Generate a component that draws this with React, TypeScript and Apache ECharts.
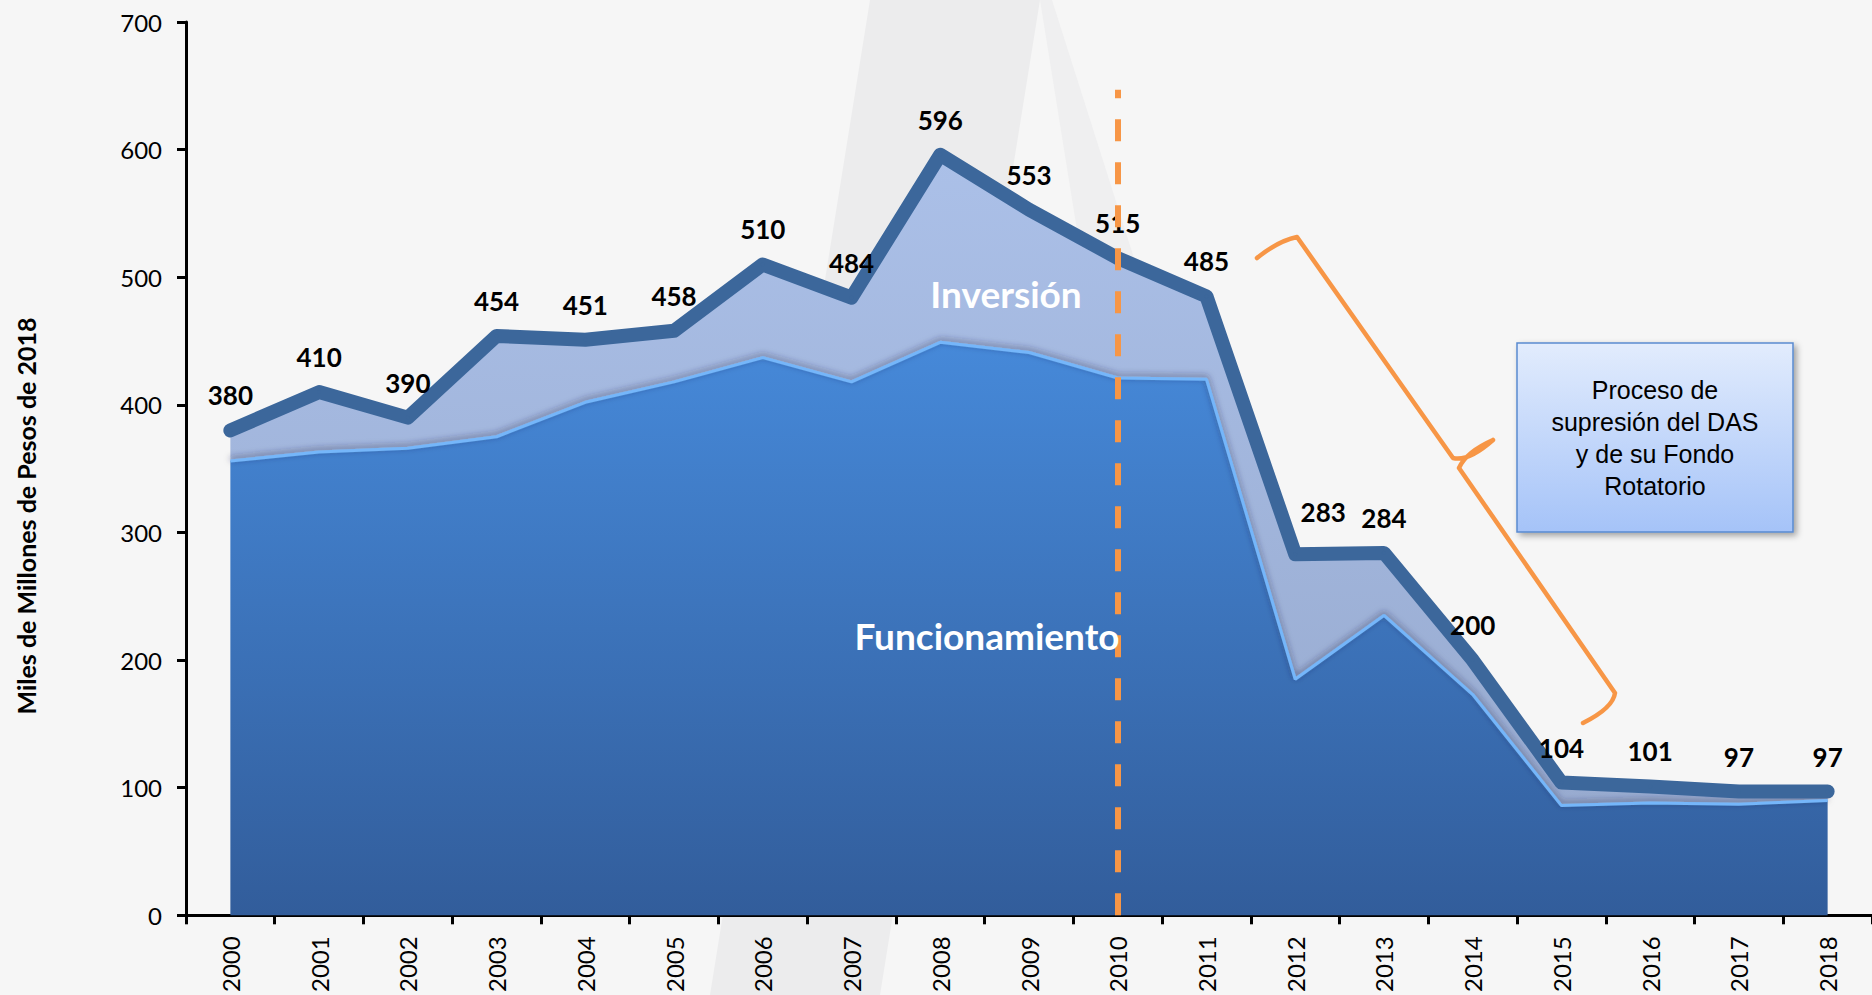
import React, { useEffect, useRef } from 'react';
import * as echarts from 'echarts';

const years = ['2000', '2001', '2002', '2003', '2004', '2005', '2006', '2007', '2008', '2009', '2010', '2011', '2012', '2013', '2014', '2015', '2016', '2017', '2018'];
const total = [380, 410, 390, 454, 451, 458, 510, 484, 596, 553, 515, 485, 283, 284, 200, 104, 101, 97, 97];
const funcionamiento = [356, 363, 366, 375, 402, 418, 437, 418, 449, 441, 421, 420, 185, 235, 173, 86, 88, 87, 90];
const inversion = [24, 47, 24, 79, 49, 40, 73, 66, 147, 112, 94, 65, 98, 49, 27, 18, 13, 10, 7];
const yMin = 0;
const yMax = 700;
const yStep = 100;
const yAxisTitle = 'Miles de Millones de Pesos de 2018';
const invLabel = 'Inversión';
const funcLabel = 'Funcionamiento';
const boxLines = ['Proceso de', 'supresión del DAS', 'y de su Fondo', 'Rotatorio'];
const dividerYear = '2010';
const dividerTop = 647;

const braceD =
  'M1257,258 Q1278,241 1297,237 L1453,458 Q1468,462 1493,440 M1493,440 Q1466,452 1459,468 L1615,693 Q1613,708 1583,723';

export default function App() {
  const ref = useRef<HTMLDivElement>(null);

  useEffect(() => {
    if (!ref.current) return;
    echarts.graphic.registerShape('brace', echarts.graphic.extendPath(braceD, {}));
    const chart = echarts.init(ref.current, null, { renderer: 'svg' });

    const totalData = total.map((v, i) =>
      years[i] === '2012' ? { value: v, label: { offset: [28, -7] } } : v
    );

    const option: any = {
      animation: false,
      backgroundColor: 'transparent',
      grid: { left: 186, top: 22, width: 1702, height: 898, containLabel: false },
      xAxis: {
        type: 'category',
        data: years,
        boundaryGap: true,
        axisLine: { lineStyle: { color: '#000', width: 3 } },
        axisTick: { show: true, length: 9, lineStyle: { color: '#000', width: 3 } },
        axisLabel: {
          rotate: 90,
          interval: 0,
          fontFamily: 'Lato',
          fontSize: 24,
          color: '#000',
          margin: 21,
          padding: [10, 0, 0, 0],
        },
        splitLine: { show: false },
      },
      yAxis: {
        type: 'value',
        min: yMin,
        max: yMax,
        interval: yStep,
        axisLine: { show: true, lineStyle: { color: '#000', width: 3 } },
        axisTick: { show: true, length: 9, lineStyle: { color: '#000', width: 3 } },
        axisLabel: { fontFamily: 'Lato', fontSize: 24, color: '#000', margin: 24 },
        splitLine: { show: false },
      },
      series: [
        {
          name: 'Funcionamiento',
          type: 'line',
          stack: 'total',
          data: funcionamiento,
          symbol: 'none',
          z: 3,
          lineStyle: {
            color: '#74b6fa',
            width: 3,
            shadowColor: 'rgba(40,40,70,0.6)',
            shadowBlur: 6,
            shadowOffsetY: -2,
          },
          areaStyle: {
            opacity: 1,
            color: new echarts.graphic.LinearGradient(0, 0, 0, 1, [
              { offset: 0, color: '#4689d9' },
              { offset: 1, color: '#325d9b' },
            ]),
          },
        },
        {
          name: 'Inversión',
          type: 'line',
          stack: 'total',
          data: inversion,
          symbol: 'none',
          z: 2,
          lineStyle: { width: 0 },
          areaStyle: {
            opacity: 1,
            color: new echarts.graphic.LinearGradient(0, 0, 0, 1, [
              { offset: 0, color: '#abc0e8' },
              { offset: 1, color: '#98abd0' },
            ]),
          },
        },
        {
          name: 'Total',
          type: 'line',
          data: totalData,
          symbol: 'circle',
          symbolSize: 4,
          z: 4,
          itemStyle: { color: '#3c679b' },
          lineStyle: { color: '#3c679b', width: 14, cap: 'round', join: 'round' },
          label: {
            show: true,
            position: 'top',
            distance: 20,
            fontFamily: 'Lato',
            fontWeight: 'bold',
            fontSize: 26,
            color: '#000',
          },
        },
        {
          name: 'divider',
          type: 'line',
          data: [],
          z: 10,
          markLine: {
            silent: true,
            symbol: ['none', 'none'],
            label: { show: false },
            lineStyle: { color: '#F79646', width: 6, type: [22, 21], cap: 'butt' },
            data: [[{ coord: [dividerYear, 0] }, { coord: [dividerYear, dividerTop] }]],
          },
        },
      ],
      graphic: [
        {
          type: 'polygon',
          z: -10,
          silent: true,
          shape: { points: [[870, 0], [1040, 0], [880, 995], [710, 995]] },
          style: { fill: '#ececed' },
        },
        {
          type: 'polygon',
          z: -10,
          silent: true,
          shape: { points: [[1040, 0], [1052, 0], [1230, 560], [1130, 560]] },
          style: { fill: '#efeff0' },
        },
        {
          type: 'text',
          x: 26,
          y: 516,
          rotation: Math.PI / 2,
          z: 100,
          style: {
            text: yAxisTitle,
            fontFamily: 'Lato',
            fontWeight: 'bold',
            fontSize: 25,
            fill: '#000',
            align: 'center',
            verticalAlign: 'middle',
          },
        },
        {
          type: 'text',
          x: 1006,
          y: 293,
          z: 100,
          style: {
            text: invLabel,
            fontFamily: 'Lato',
            fontWeight: 'bold',
            fontSize: 37,
            fill: '#fff',
            align: 'center',
            verticalAlign: 'middle',
          },
        },
        {
          type: 'text',
          x: 987,
          y: 635,
          z: 100,
          style: {
            text: funcLabel,
            fontFamily: 'Lato',
            fontWeight: 'bold',
            fontSize: 37,
            fill: '#fff',
            align: 'center',
            verticalAlign: 'middle',
          },
        },
        {
          type: 'brace',
          x: 0,
          y: 0,
          z: 50,
          silent: true,
          style: { fill: 'none', stroke: '#F79646', lineWidth: 4.5, lineCap: 'round', lineJoin: 'round' },
        },
        {
          type: 'rect',
          z: 60,
          shape: { x: 1517, y: 343, width: 276, height: 189 },
          style: {
            fill: new echarts.graphic.LinearGradient(0, 0, 0, 1, [
              { offset: 0, color: '#e2ecfd' },
              { offset: 1, color: '#a5c3f8' },
            ]),
            stroke: '#5a8ad0',
            lineWidth: 1.5,
            shadowColor: 'rgba(0,0,0,0.35)',
            shadowBlur: 6,
            shadowOffsetX: 3,
            shadowOffsetY: 3,
          },
        },
        {
          type: 'text',
          x: 1655,
          y: 438,
          z: 61,
          style: {
            text: boxLines.join('\n'),
            fontFamily: 'Liberation Sans, Arial, sans-serif',
            fontSize: 25,
            lineHeight: 32,
            fill: '#000',
            align: 'center',
            verticalAlign: 'middle',
          },
        },
      ],
    };

    chart.setOption(option);
    return () => {
      chart.dispose();
    };
  }, []);

  return (
    <div
      style={{
        position: 'fixed',
        left: 0,
        top: 0,
        width: 1872,
        height: 995,
        background: '#f6f6f6',
        overflow: 'hidden',
      }}
    >
      <div ref={ref} style={{ width: 1872, height: 995 }} />
    </div>
  );
}
